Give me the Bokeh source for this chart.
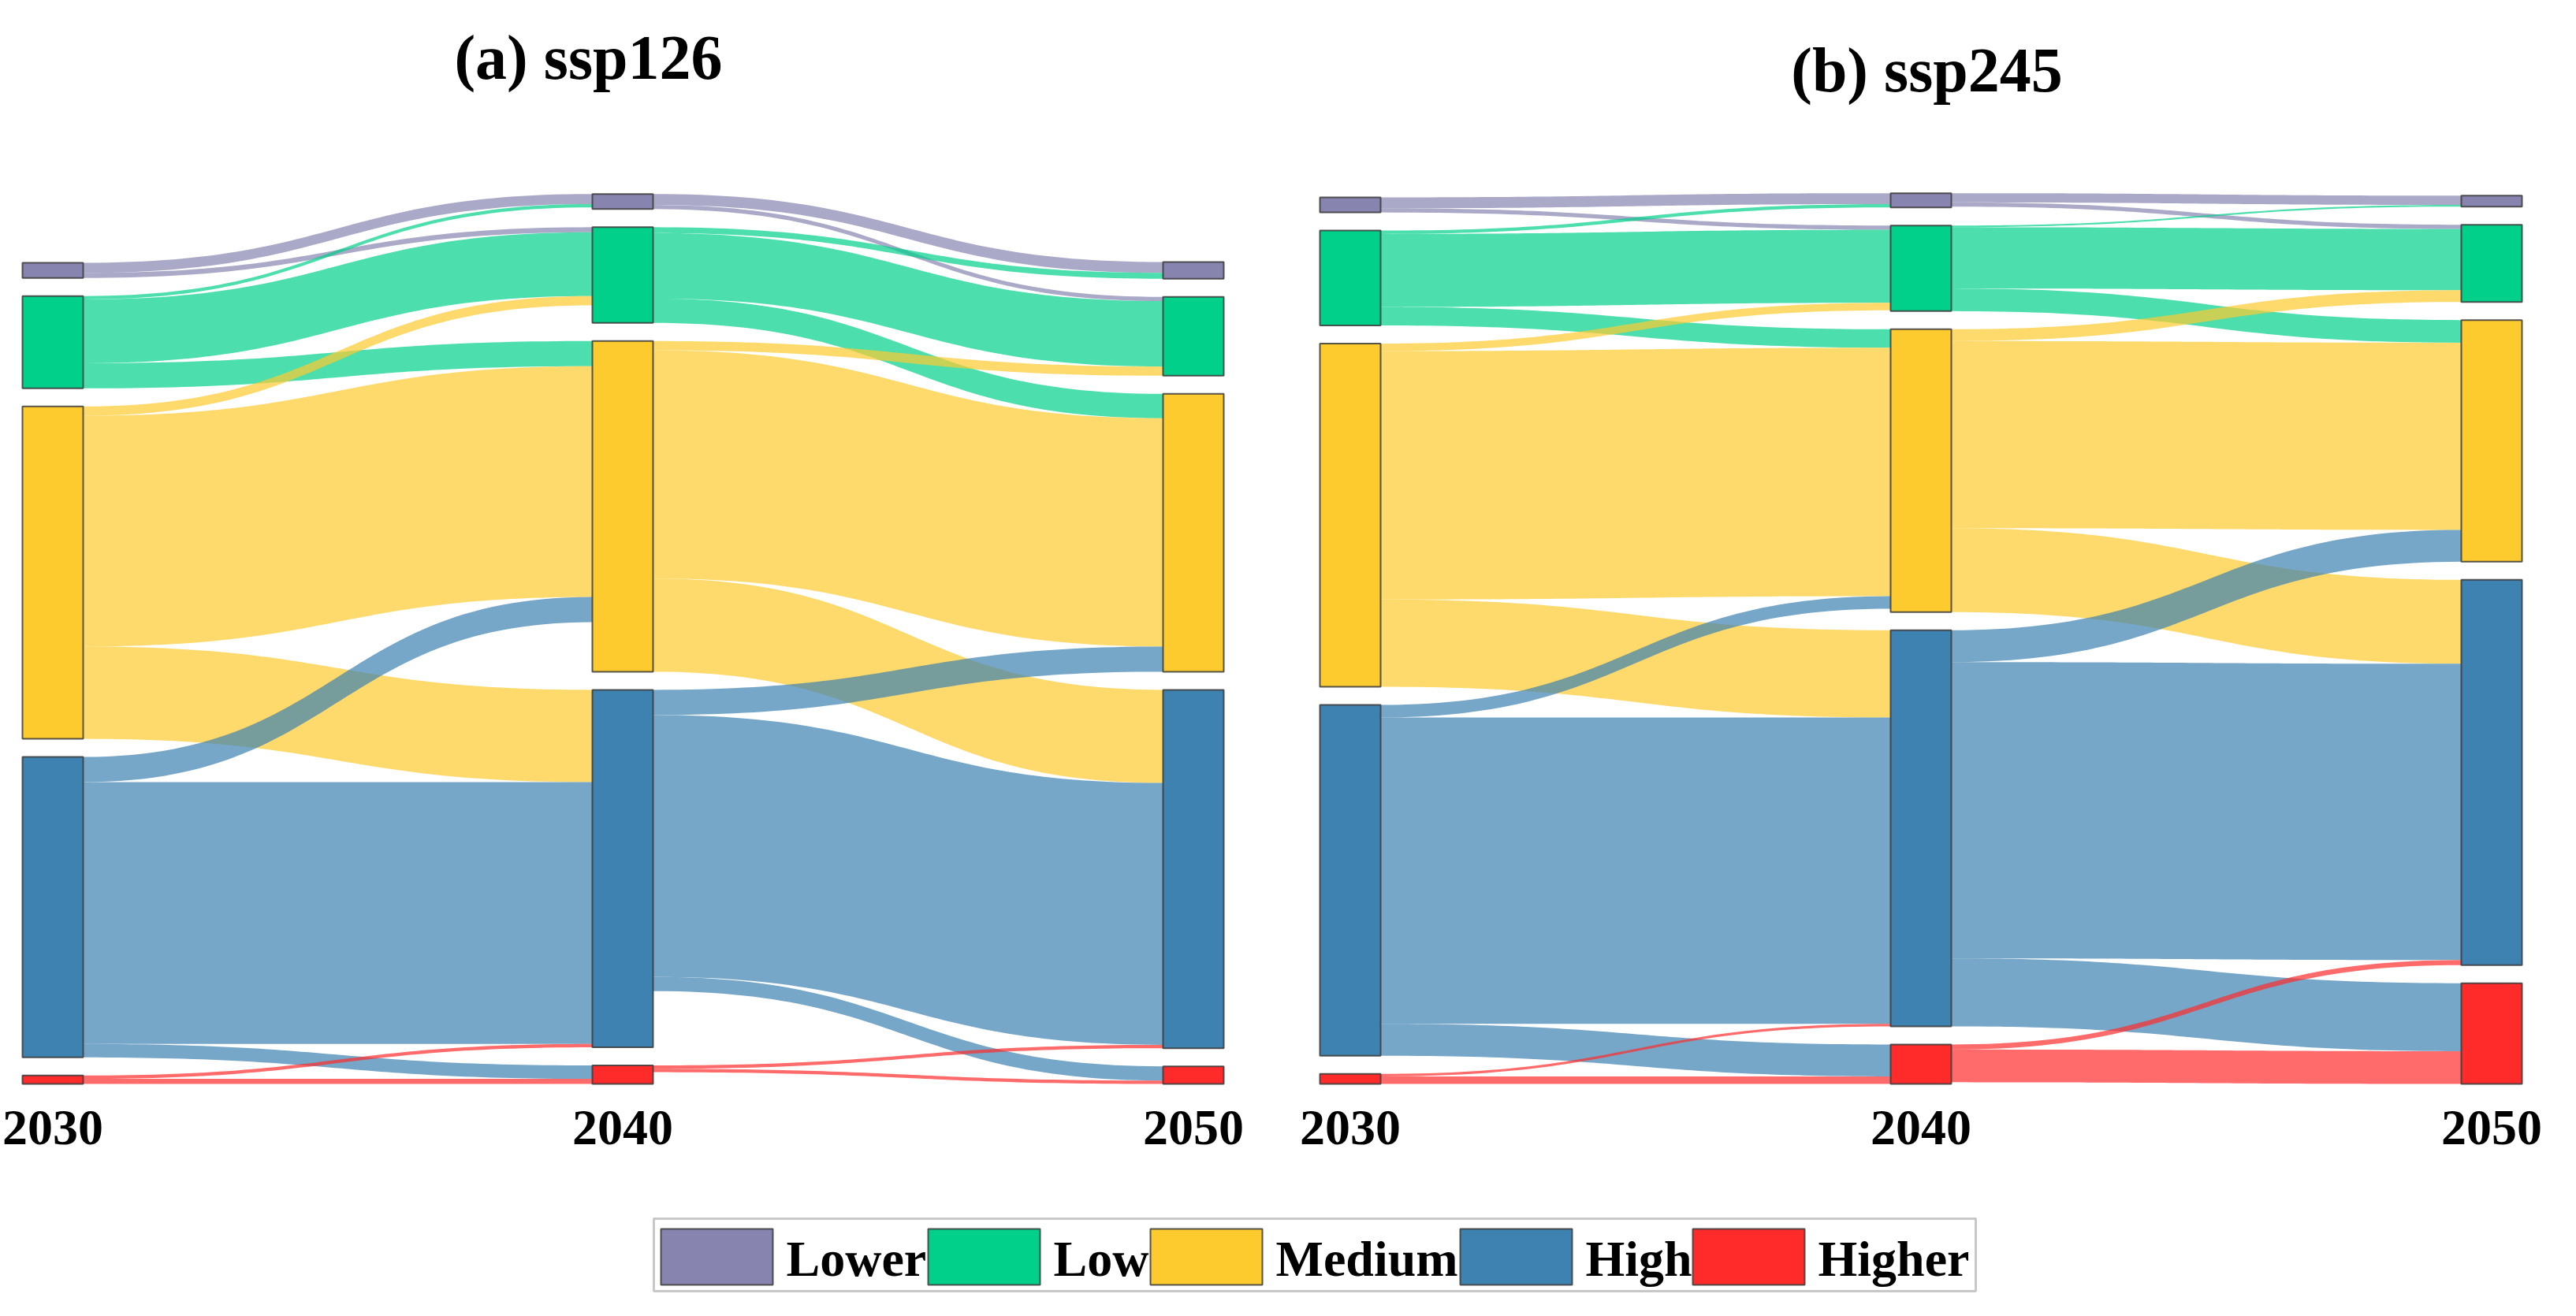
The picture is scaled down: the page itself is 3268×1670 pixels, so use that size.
import numpy as np
from bokeh.plotting import figure
from bokeh.models import Range1d, ColumnDataSource
from bokeh.core.properties import value
from bokeh.embed import file_html
from bokeh.resources import INLINE

# ---------------- data ----------------
categories = ["Lower", "Low", "Medium", "High", "Higher"]
years = ["2030", "2040", "2050"]
panel_titles = ["(a) ssp126", "(b) ssp245"]

# transition matrices: row = source class, column = target class
ssp126_2030_2040 = [
    [12, 6, 0, 0, 0],
    [4, 76, 30, 0, 0],
    [0, 11, 275, 110, 0],
    [0, 0, 30, 312, 16],
    [0, 0, 0, 4, 6],
]
ssp126_2040_2050 = [
    [13, 5, 0, 0, 0],
    [7, 78, 29, 0, 0],
    [0, 11, 272, 111, 0],
    [0, 0, 30, 312, 17],
    [0, 0, 0, 4, 4],
]
ssp245_2030_2040 = [
    [13, 5, 0, 0, 0],
    [4, 87, 22, 0, 0],
    [0, 9, 296, 104, 0],
    [0, 0, 15, 365, 38],
    [0, 0, 0, 3, 9],
]
ssp245_2040_2050 = [
    [11, 5, 0, 0, 0],
    [2, 73, 27, 0, 0],
    [0, 14, 223, 100, 0],
    [0, 0, 38, 353, 81],
    [0, 0, 0, 6, 39],
]
panels = [(ssp126_2030_2040, ssp126_2040_2050), (ssp245_2030_2040, ssp245_2040_2050)]

# ---------------- style / layout ----------------
node_colors = ["#8884b0", "#00d08a", "#fecb2f", "#3d82b0", "#ff2b2b"]
link_alpha = 0.7
W, H = 3252, 1654
col_left = [[36, 759, 1483], [1682, 2406, 3130]]
node_w = 77
bottom_y = 1383
k = 1.065      # px per unit
gap = 23
title_pos = [(754, 80), (2452, 96)]
year_baseline = 1438
font = "Liberation Serif"

# legend layout (screen px)
leg_box = (837, 2514, 1554, 1646)
leg_patch_left = [846, 1185, 1467, 1860, 2155]
leg_patch_w = 142
leg_patch_top, leg_patch_bottom = 1567, 1638
leg_label_gap = 17

p = figure(width=W, height=H, x_range=Range1d(8, 8 + W), y_range=Range1d(8 + H, 8),
           output_backend="svg", toolbar_location=None, min_border=0,
           x_axis_location=None, y_axis_location=None)
p.grid.visible = False
p.outline_line_color = None
p.background_fill_color = "white"

node_quads = {i: dict(left=[], right=[], top=[], bottom=[]) for i in range(5)}
link_data = {i: dict(xs=[], ys=[]) for i in range(5)}

t = np.linspace(0, 1, 60)
fx = 1.5 * t - 1.5 * t ** 2 + t ** 3
fy = 3 * t ** 2 - 2 * t ** 3

year_x, year_y, year_t = [], [], []

for pi, (f01, f12) in enumerate(panels):
    a = np.array(f01, dtype=float)
    b = np.array(f12, dtype=float)
    sizes = [a.sum(axis=1), np.maximum(a.sum(axis=0), b.sum(axis=1)), b.sum(axis=0)]
    tops = []
    for c in range(3):
        cur = bottom_y
        tp = np.zeros(5)
        for i in range(4, -1, -1):
            h = sizes[c][i] * k
            tp[i] = cur - h
            node_quads[i]["left"].append(col_left[pi][c])
            node_quads[i]["right"].append(col_left[pi][c] + node_w)
            node_quads[i]["top"].append(cur - h)
            node_quads[i]["bottom"].append(cur)
            cur = cur - h - gap
        tops.append(tp)
        year_x.append(col_left[pi][c] + node_w / 2)
        year_y.append(year_baseline)
        year_t.append(years[c])
    for c, m in enumerate([a, b]):
        out_off = np.zeros(5)
        in_off = np.zeros(5)
        x0 = col_left[pi][c] + node_w
        x1 = col_left[pi][c + 1]
        for s in range(5):
            for tg in range(5):
                v = m[s, tg]
                if v <= 0:
                    continue
                th = v * k
                y0 = tops[c][s] + out_off[s]
                y1 = tops[c + 1][tg] + in_off[tg]
                out_off[s] += th
                in_off[tg] += th
                xs = x0 + (x1 - x0) * fx
                top_edge = y0 + (y1 - y0) * fy
                bot_edge = top_edge + th
                link_data[s]["xs"].append(list(xs) + list(xs[::-1]))
                link_data[s]["ys"].append(list(top_edge) + list(bot_edge[::-1]))

# links (drawn by source order)
for i in range(5):
    p.patches("xs", "ys", source=ColumnDataSource(link_data[i]), fill_color=node_colors[i],
              fill_alpha=link_alpha, line_color=None)

for i in range(5):
    p.quad(left="left", right="right", top="top", bottom="bottom",
           source=ColumnDataSource(node_quads[i]), fill_color=node_colors[i],
           line_color="#3a3a3a", line_width=2, line_alpha=0.85)

# titles
p.text(x=[tp[0] for tp in title_pos], y=[tp[1] for tp in title_pos], text=panel_titles,
       text_font=value(font), text_font_style="bold", text_font_size="80px",
       text_align="center", text_baseline="alphabetic", text_color="black")
# year labels
p.text(x=year_x, y=year_y, text=year_t, text_font=value(font), text_font_style="bold",
       text_font_size="64px", text_align="center", text_baseline="alphabetic", text_color="black")

# legend (drawn as a box with colour patches and labels)
p.quad(left=[leg_box[0]], right=[leg_box[1]], top=[leg_box[2]], bottom=[leg_box[3]],
       fill_color="white", line_color="#c8c8c8", line_width=3)
p.quad(left=leg_patch_left, right=[x + leg_patch_w for x in leg_patch_left],
       top=[leg_patch_top] * 5, bottom=[leg_patch_bottom] * 5,
       fill_color=node_colors, line_color="#3a3a3a", line_width=2, line_alpha=0.85)
p.text(x=[x + leg_patch_w + leg_label_gap for x in leg_patch_left],
       y=[(leg_patch_top + leg_patch_bottom) / 2 + 2] * 5, text=categories,
       text_font=value(font), text_font_style="bold", text_font_size="64px",
       text_align="left", text_baseline="middle", text_color="black")

open("out.html", "w").write(file_html(p, INLINE))
